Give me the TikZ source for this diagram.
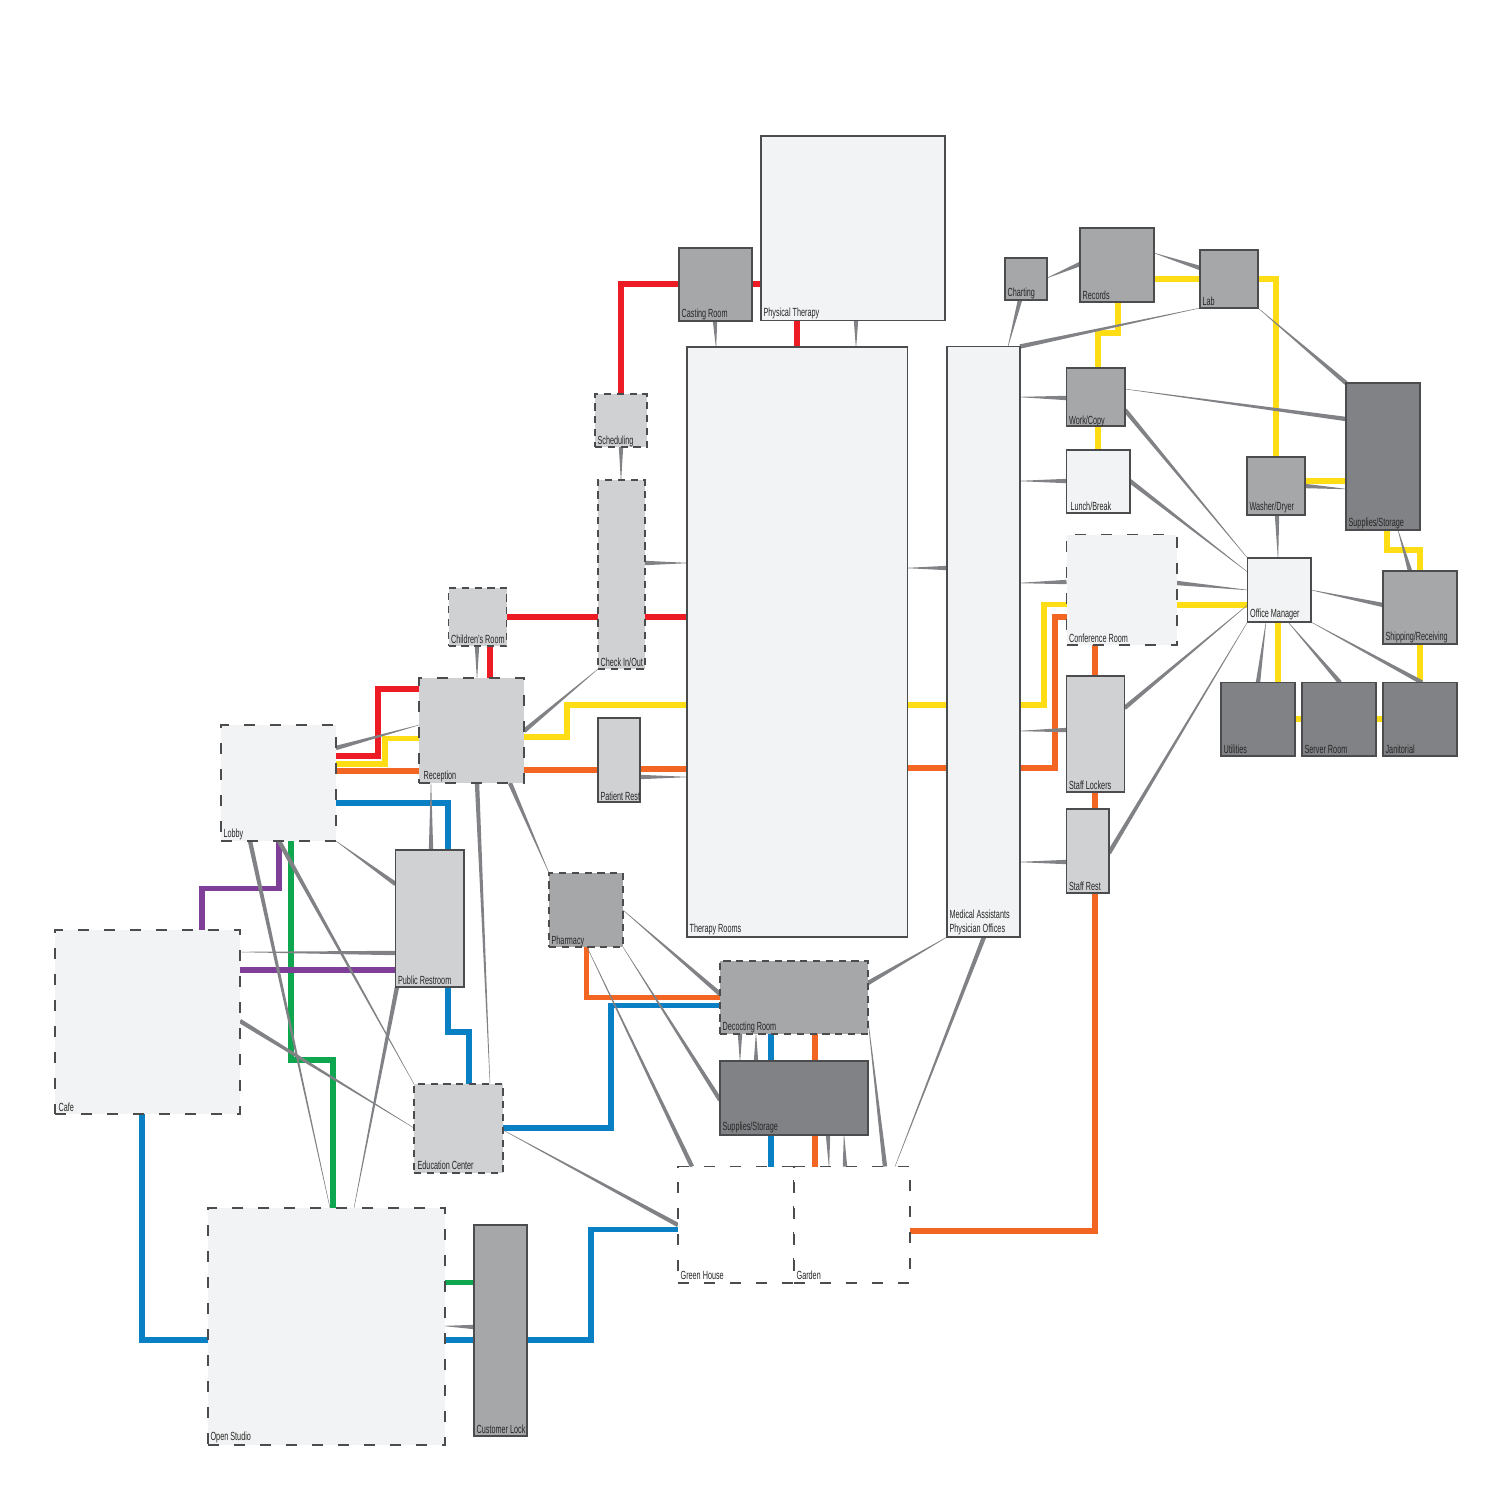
\documentclass[tikz,border=0pt]{standalone}
\usepackage{fontspec}
\setmainfont[FakeStretch=0.615]{Liberation Sans}
\usetikzlibrary{calc,backgrounds}
\definecolor{rmlight}{HTML}{F2F3F4}
\definecolor{rmpale}{HTML}{CFD1D2}
\definecolor{rmmid}{HTML}{A5A7A9}
\definecolor{rmdark}{HTML}{808285}
\definecolor{edge}{HTML}{4A4C4E}
\definecolor{wedgegray}{HTML}{808285}
\definecolor{lred}{HTML}{ED1C24}
\definecolor{lyellow}{HTML}{FFDD15}
\definecolor{lorange}{HTML}{F26522}
\definecolor{lblue}{HTML}{0A80C4}
\definecolor{lgreen}{HTML}{0FA650}
\definecolor{lpurple}{HTML}{7F3F98}
\tikzset{
  basicroom/.style={inner sep=0pt,outer sep=0pt,draw=edge},
  solidroom/.style={basicroom,line width=0.62pt},
  dashroom/.style={basicroom,line width=0.55pt,dash pattern=on 5.5pt off 7.5pt},
  finedash/.style={basicroom,line width=0.55pt,dash pattern=on 3.6pt off 2.8pt},
  lbl/.style={inner sep=0pt,outer sep=0pt,xshift=1.3pt,yshift=1.2pt,font=\fontsize{5.9}{6.7}\selectfont,text=black!85,align=left},
  conn/.style={line width=2.6pt,line cap=butt,line join=miter},
  redline/.style={conn,draw=lred},
  yellowline/.style={conn,draw=lyellow},
  orangeline/.style={conn,draw=lorange},
  blueline/.style={conn,draw=lblue},
  greenline/.style={conn,draw=lgreen},
  purpleline/.style={conn,draw=lpurple},
}
% [label drop in px] name, x0, y0, x1, y1, fill, border style, label
\newcommand{\room}[9][0]{%
  \node[#8,fill=#7,minimum width={(#5-#3)*0.5pt},minimum height={(#6-#4)*0.5pt}] (#2) at ({(#3+#5)/2},{(#4+#6)/2}) {};
  \node[lbl,anchor=south west,yshift={-(#1)*0.5pt}] (#2-t) at (#2.south west) {#9};
}
% tapered link: thin end, thick end
\newcommand{\taper}[2]{%
  \fill[wedgegray] ($(#1)!0.1pt!90:(#2)$) -- ($(#1)!0.1pt!-90:(#2)$) -- ($(#2)!1.1pt!90:(#1)$) -- ($(#2)!1.1pt!-90:(#1)$) -- cycle;
}
\begin{document}
\begin{tikzpicture}[x=0.5pt,y=-0.5pt]
\useasboundingbox (0,0) rectangle (1500,1500);
% rooms
\room[1]{physical}{761}{136}{945}{320.5}{rmlight}{solidroom}{Physical Therapy}
\room[1]{casting}{679}{248}{752}{321}{rmmid}{solidroom}{Casting Room}
\room{therapy}{687}{347}{907.5}{937}{rmlight}{solidroom}{Therapy Rooms}
\room{medical}{947}{346.5}{1020}{937}{rmlight}{solidroom}{Medical Assistants\\Physician Offices}
\room[1]{charting}{1005}{258}{1047}{300}{rmmid}{solidroom}{Charting}
\room{records}{1080}{228}{1154}{302}{rmmid}{solidroom}{Records}
\room{lab}{1200}{250}{1258}{308}{rmmid}{solidroom}{Lab}
\room[3]{work}{1066.5}{368}{1125}{426}{rmmid}{solidroom}{Work/Copy}
\room{lunch}{1066.5}{450}{1130}{513}{rmlight}{solidroom}{\hspace{0.7pt}Lunch/Break}
\room{conference}{1066.5}{534.5}{1177}{645}{rmlight}{dashroom}{Conference Room}
\room{lockers}{1066.5}{676}{1124.5}{792}{rmpale}{solidroom}{Staff Lockers}
\room{rest}{1066.5}{809}{1109}{893}{rmpale}{solidroom}{Staff Rest}
\room{office}{1247.5}{558}{1311}{622}{rmlight}{solidroom}{Office Manager}
\room{washer}{1247}{457}{1305}{515}{rmmid}{solidroom}{Washer/Dryer}
\room[1]{supplies}{1346}{383}{1420}{530}{rmdark}{solidroom}{Supplies/Storage}
\room[1]{shipping}{1383}{571}{1457}{644}{rmmid}{solidroom}{Shipping/Receiving}
\room{utilities}{1221}{682.5}{1295}{756}{rmdark}{solidroom}{Utilities}
\room{server}{1302}{682.5}{1376}{756}{rmdark}{solidroom}{Server Room}
\room{janitorial}{1383}{682.5}{1457}{756}{rmdark}{solidroom}{Janitorial}
\room[2]{scheduling}{595}{394}{647}{447}{rmpale}{finedash}{Scheduling}
\room{checkin}{598}{480}{645}{669}{rmpale}{finedash}{Check In/Out}
\room{children}{448.5}{588}{506.5}{646}{rmpale}{finedash}{Children's Room}
\room[1]{reception}{419}{678}{524}{783}{rmpale}{dashroom}{\hspace{1pt}Reception}
\room[1]{patient}{598}{718}{640}{802}{rmpale}{solidroom}{Patient Rest}
\room[1]{lobby}{221}{725}{336}{841}{rmlight}{dashroom}{Lobby}
\room{restroom}{395.5}{850}{464}{987}{rmpale}{solidroom}{Public Restroom}
\room[2]{pharmacy}{549}{873}{623}{947}{rmmid}{finedash}{Pharmacy}
\room[1]{decocting}{720}{961}{868}{1034}{rmmid}{finedash}{Decocting Room}
\room{storage}{720}{1061}{868}{1135}{rmdark}{solidroom}{Supplies/Storage}
\room[-1]{greenhouse}{678}{1166.5}{794}{1283}{white}{dashroom}{Green House}
\room[-1]{garden}{794}{1166.5}{910}{1283}{white}{dashroom}{Garden}
\room{cafe}{55}{930}{240}{1114}{rmlight}{dashroom}{\hspace{0.5pt}Cafe}
\room[-1]{education}{414}{1084}{503}{1173}{rmpale}{finedash}{\hspace{0.5pt}Education Center}
\room{studio}{208}{1208}{445}{1445}{rmlight}{dashroom}{Open Studio}
\room{customer}{474}{1225}{527}{1436}{rmmid}{solidroom}{Customer Lock}
\begin{scope}[on background layer]
% red
\draw[redline] (casting.west|-0,284) -- (621,284) -- (scheduling.north-|621,0);
\draw[redline] (casting.east|-0,284) -- (physical.west|-0,284);
\draw[redline] (therapy.north-|797,0) -- (physical.south-|797,0);
\draw[redline] (children.east|-0,617) -- (checkin.west|-0,617);
\draw[redline] (checkin.east|-0,617) -- (therapy.west|-0,617);
\draw[redline] (children.south-|490,0) -- (reception.north-|490,0);
\draw[redline] (reception.west|-0,689) -- (378,689) -- (378,756) -- (lobby.east|-0,756);
% yellow
\draw[yellowline] (lobby.east|-0,764) -- (385,764) -- (385,738.5) -- (reception.west|-0,738.5);
\draw[yellowline] (reception.east|-0,737) -- (567,737) -- (567,705) -- (therapy.west|-0,705);
\draw[yellowline] (therapy.east|-0,705) -- (medical.west|-0,705);
\draw[yellowline] (medical.east|-0,705) -- (1044,705) -- (1044,604.5) -- (conference.west|-0,604.5);
\draw[yellowline] (conference.east|-0,605) -- (office.west|-0,605);
\draw[yellowline] (office.south-|1278,0) -- (utilities.north-|1278,0);
\draw[yellowline] (utilities.east|-0,719) -- (server.west|-0,719);
\draw[yellowline] (server.east|-0,719) -- (janitorial.west|-0,719);
\draw[yellowline] (janitorial.north-|1420,0) -- (shipping.south-|1420,0);
\draw[yellowline] (shipping.north-|1420,0) -- (1420,550) -- (1387,550) -- (supplies.south-|1387,0);
\draw[yellowline] (washer.east|-0,481) -- (supplies.west|-0,481);
\draw[yellowline] (washer.north-|1276,0) -- (1276,279) -- (lab.east|-0,279);
\draw[yellowline] (lab.west|-0,279) -- (records.east|-0,279);
\draw[yellowline] (records.south-|1118,0) -- (1118,333) -- (1098,333) -- (work.north-|1098,0);
\draw[yellowline] (work.south-|1098,0) -- (lunch.north-|1098,0);
% orange
\draw[orangeline] (lobby.east|-0,771) -- (reception.west|-0,771);
\draw[orangeline] (reception.east|-0,770) -- (patient.west|-0,770);
\draw[orangeline] (patient.east|-0,769) -- (therapy.west|-0,769);
\draw[orangeline] (therapy.east|-0,768) -- (medical.west|-0,768);
\draw[orangeline] (medical.east|-0,768) -- (1055,768) -- (1055,617) -- (conference.west|-0,617);
\draw[orangeline] (conference.south-|1095,0) -- (lockers.north-|1095,0);
\draw[orangeline] (lockers.south-|1095,0) -- (rest.north-|1095,0);
\draw[orangeline] (rest.south-|1095,0) -- (1095,1231) -- (garden.east|-0,1231);
\draw[orangeline] (pharmacy.south-|586.5,0) -- (586.5,997.5) -- (decocting.west|-0,997.5);
\draw[orangeline] (decocting.south-|815,0) -- (storage.north-|815,0);
\draw[orangeline] (storage.south-|815,0) -- (garden.north-|815,0);
% blue
\draw[blueline] (lobby.east|-0,803) -- (448,803) -- (restroom.north-|448,0);
\draw[blueline] (restroom.south-|448,0) -- (448,1032) -- (469,1032) -- (education.north-|469,0);
\draw[blueline] (education.east|-0,1128) -- (611,1128) -- (611,1005.5) -- (decocting.west|-0,1005.5);
\draw[blueline] (decocting.south-|771,0) -- (storage.north-|771,0);
\draw[blueline] (storage.south-|771,0) -- (greenhouse.north-|771,0);
\draw[blueline] (greenhouse.west|-0,1229.5) -- (591,1229.5) -- (591,1340) -- (customer.east|-0,1340);
\draw[blueline] (customer.west|-0,1340) -- (studio.east|-0,1340);
\draw[blueline] (studio.west|-0,1340) -- (142,1340) -- (cafe.south-|142,0);
% green
\draw[greenline] (lobby.south-|291,0) -- (291,1060) -- (333,1060) -- (studio.north-|333,0);
\draw[greenline] (studio.east|-0,1282.5) -- (customer.west|-0,1282.5);
% purple
\draw[purpleline] (lobby.south-|279,0) -- (279,888.5) -- (202,888.5) -- (cafe.north-|202,0);
\draw[purpleline] (cafe.east|-0,970) -- (restroom.west|-0,970);
% tapered links, thin end first
\taper{reception.west|-0,725}{lobby.east|-0,748}
\taper{checkin.south west}{reception.east|-0,731}
\taper{reception.north-|477,0}{children.south-|477,0}
\taper{reception.south-|431,0}{restroom.north-|431,0}
\taper{education.north-|490,0}{reception.south-|477,0}
\taper{pharmacy.north west}{reception.south-|510,0}
\taper{lobby.south east}{restroom.west|-0,884}
\taper{studio.north-|330,0}{lobby.south-|250,0}
\taper{education.north west}{lobby.south-|279,0}
\taper{cafe.east|-0,952}{restroom.west|-0,953}
\taper{studio.north-|354,0}{restroom.south-|397,0}
\taper{education.west|-0,1128}{cafe.east|-0,1021}
\taper{education.east|-0,1130}{greenhouse.west|-0,1225}
\taper{pharmacy.east|-0,910}{decocting.west|-0,994}
\taper{pharmacy.south east}{storage.west|-0,1100}
\taper{pharmacy.south-|587,0}{greenhouse.north-|692,0}
\taper{medical.south west}{decocting.east|-0,983}
\taper{garden.north-|895,0}{medical.south-|984,0}
\taper{decocting.east|-0,1020}{garden.north-|885,0}
\taper{storage.north-|740,0}{decocting.south-|740,0}
\taper{decocting.south-|756,0}{storage.north-|756,0}
\taper{garden.north-|829,0}{storage.south-|828,0}
\taper{storage.south-|844,0}{garden.north-|845,0}
\taper{therapy.north-|716,0}{casting.south-|715,0}
\taper{therapy.north-|856,0}{physical.south-|856,0}
\taper{checkin.north-|621,0}{scheduling.south-|621,0}
\taper{therapy.west|-0,563}{checkin.east|-0,563}
\taper{therapy.west|-0,777}{patient.east|-0,777}
\taper{therapy.east|-0,568}{medical.west|-0,568}
\taper{medical.east|-0,397}{work.west|-0,398}
\taper{medical.east|-0,481}{lunch.west|-0,481}
\taper{medical.east|-0,583}{conference.west|-0,582}
\taper{medical.east|-0,731}{lockers.west|-0,730}
\taper{medical.east|-0,862}{rest.west|-0,862}
\taper{charting.east|-0,278}{records.west|-0,264}
\taper{medical.north-|1008,0}{charting.south-|1020,0}
\taper{lab.south west}{medical.north east}
\taper{records.east|-0,253}{lab.west|-0,268}
\taper{lab.south east}{supplies.north west}
\taper{work.east|-0,389}{supplies.west|-0,419}
\taper{office.north west}{work.east|-0,410}
\taper{office.west|-0,572}{lunch.east|-0,481}
\taper{office.west|-0,590}{conference.east|-0,583}
\taper{office.west|-0,605}{lockers.east|-0,708}
\taper{office.south west}{rest.east|-0,853}
\taper{office.north-|1278,0}{washer.south-|1277,0}
\taper{supplies.west|-0,489}{washer.east|-0,486}
\taper{supplies.south-|1398,0}{shipping.north-|1410,0}
\taper{office.east|-0,590}{shipping.west|-0,605}
\taper{office.south-|1266,0}{utilities.north-|1258,0}
\taper{office.south-|1288,0}{server.north-|1340,0}
\taper{office.south-|1311,0}{janitorial.north-|1422,0}
\taper{studio.east|-0,1326}{customer.west|-0,1327}
\end{scope}
\end{tikzpicture}
\end{document}
